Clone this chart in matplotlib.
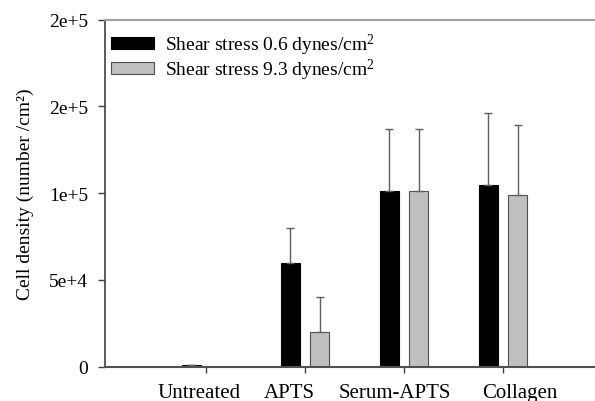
import matplotlib
matplotlib.use("Agg")
import matplotlib.pyplot as plt
import matplotlib.transforms as mtransforms
import numpy as np

categories = ["Untreated", "APTS", "Serum-APTS", "Collagen"]
low_shear = [1000, 60000, 101500, 105000]
low_err = [0, 20000, 35500, 41500]
high_shear = [0, 20000, 101500, 98700]
high_err = [0, 20000, 35500, 40700]
series_labels = ["Shear stress 0.6 dynes/cm$^2$", "Shear stress 9.3 dynes/cm$^2$"]
yticks = [0, 50000, 100000, 150000, 200000]
ytick_labels = ["0", "5e+4", "1e+5", "2e+5", "2e+5"]
ylabel = "Cell density (number /cm²)"

plt.rcParams["font.family"] = ["Liberation Serif", "DejaVu Serif"]
plt.rcParams["mathtext.fontset"] = "custom"
plt.rcParams["mathtext.rm"] = "Liberation Serif"
plt.rcParams["mathtext.it"] = "Liberation Serif:italic"

fig = plt.figure(figsize=(5.95, 4.02), dpi=100)
L, B = 105 / 595, (402 - 367.7) / 402
ax = fig.add_axes([L, B, 1 - L, (367.7 - 20.7) / 402])

x = np.arange(len(categories))
w = 0.187
off = 0.148
ekw = dict(ecolor="#606060", elinewidth=1.0, capthick=1.0)
ax.bar(x - off, low_shear, w, color="black", edgecolor="black", linewidth=0.8,
       yerr=[np.zeros(len(x)), low_err], capsize=3.2, error_kw=ekw,
       label=series_labels[0], zorder=2)
ax.bar(x + off, high_shear, w, color="#c0c0c0", edgecolor="#505050", linewidth=0.8,
       yerr=[np.zeros(len(x)), high_err], capsize=3.2, error_kw=ekw,
       label=series_labels[1], zorder=2)

ax.set_xlim(-1.02, 3.93)
ax.set_ylim(0, 200000)
ax.set_yticks(yticks)
ax.set_yticklabels(ytick_labels, fontsize=14)
ax.set_xticks(x)
ax.set_xticklabels(categories, fontsize=15)
ax.tick_params(axis="y", direction="out", length=5, width=1, color="#404040", pad=7)
ax.tick_params(axis="x", direction="out", length=4, width=1, color="#404040", pad=8)

# small label offsets (pixels) to match reference placement
shifts = [-7, -16, -9, 17]
for lab, s in zip(ax.get_xticklabels(), shifts):
    lab.set_transform(lab.get_transform() + mtransforms.ScaledTranslation(s / 100, 0, fig.dpi_scale_trans))

ax.set_ylabel(ylabel, fontsize=14, labelpad=11)

ax.spines["right"].set_visible(False)
ax.spines["top"].set_color("#a0a0a0")
ax.spines["top"].set_linewidth(1.5)
ax.spines["left"].set_color("#404040")
ax.spines["left"].set_linewidth(1.2)
ax.spines["bottom"].set_color("#505050")
ax.spines["bottom"].set_linewidth(1.5)

leg = ax.legend(loc="upper left", frameon=False, fontsize=14, handlelength=2.2,
                handleheight=0.55, handletextpad=0.6, labelspacing=0.0,
                borderaxespad=0.3, bbox_to_anchor=(-0.016, 1.005))

fig.savefig("out.png", dpi=100)
